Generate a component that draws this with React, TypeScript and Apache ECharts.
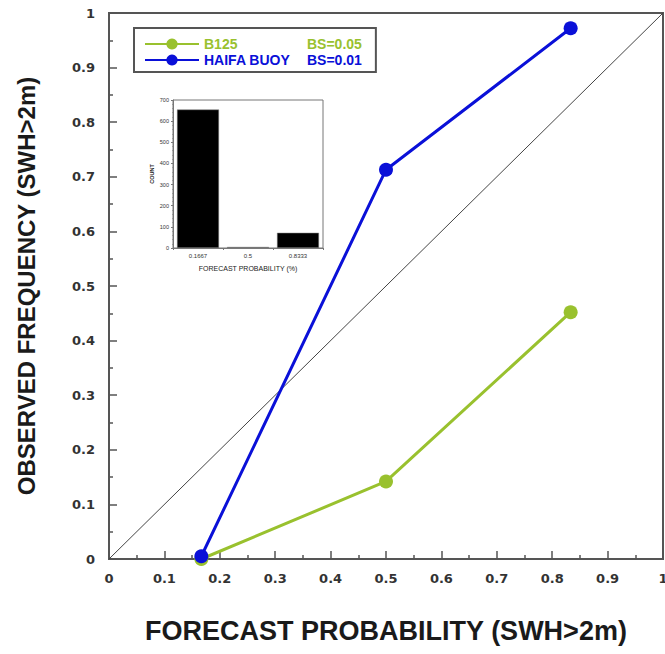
import React, { useEffect, useRef } from "react";
import * as echarts from "echarts";

const forecastProb = [0.1667, 0.5, 0.8333];
const b125Freq = [0.0, 0.142, 0.452];
const haifaFreq = [0.005, 0.713, 0.972];
const diagonal = [[0, 0], [1, 1]];
const insetCategories = ["0.1667", "0.5", "0.8333"];
const insetCounts = [655, 5, 72];
const seriesNames = ["B125", "HAIFA BUOY"];
const brierScores = ["BS=0.05", "BS=0.01"];

const GREEN = "#99c12e";
const BLUE = "#0a10d8";

export default function App() {
  const ref = useRef<HTMLDivElement>(null);
  useEffect(() => {
    document.body.style.margin = "0";
    const chart = echarts.init(ref.current!, null, { renderer: "svg" });
    const font = "Liberation Sans, Arial, sans-serif";
    const tickFont = "DejaVu Sans, Verdana, sans-serif";
    chart.setOption({
      animation: false,
      backgroundColor: "#fff",
      textStyle: { fontFamily: font },
      grid: [
        { left: 109, top: 13, width: 554, height: 546, show: true, borderColor: "#555", borderWidth: 2, backgroundColor: "transparent", outerBoundsMode: "none", containLabel: false },
        { left: 173, top: 100, width: 150, height: 148, show: true, borderColor: "#777", borderWidth: 1, backgroundColor: "#fff", z: 10, outerBoundsMode: "none", containLabel: false },
      ],
      legend: {
        left: 134,
        top: 28,
        orient: "vertical",
        data: seriesNames,
        backgroundColor: "#fff",
        borderColor: "#555",
        borderWidth: 2,
        borderRadius: 0,
        padding: [9, 14, 5, 10],
        itemGap: 2,
        itemWidth: 54,
        itemHeight: 14,
        formatter: (name: string) => {
          const i = seriesNames.indexOf(name);
          const k = i === 0 ? "g" : "b";
          return `{${k}a|${name}}{${k}b|${brierScores[i]}}`;
        },
        textStyle: {
          fontFamily: font,
          fontSize: 14,
          rich: {
            ga: { color: GREEN, width: 103, fontSize: 14, fontWeight: "bold", fontFamily: font },
            gb: { color: GREEN, fontSize: 14, fontWeight: "bold", fontFamily: font },
            ba: { color: BLUE, width: 103, fontSize: 14, fontWeight: "bold", fontFamily: font },
            bb: { color: BLUE, fontSize: 14, fontWeight: "bold", fontFamily: font },
          },
        },
      },
      xAxis: [
        {
          type: "value",
          gridIndex: 0,
          min: 0,
          max: 1,
          interval: 0.1,
          name: "FORECAST PROBABILITY (SWH>2m)",
          nameLocation: "middle",
          nameGap: 58,
          nameTextStyle: { fontSize: 27, fontWeight: "bold", color: "#1a1a1a", fontFamily: font },
          axisLine: { lineStyle: { color: "#555", width: 2 } },
          axisTick: { inside: true, length: 8, lineStyle: { color: "#555", width: 1.5 } },
          minorTick: { show: true, splitNumber: 2, length: 4, lineStyle: { color: "#555", width: 1.5 } },
          splitLine: { show: false },
          axisLabel: { fontSize: 13, fontWeight: "bold", color: "#333", margin: 13, fontFamily: tickFont },
        },
        {
          type: "category",
          gridIndex: 1,
          data: insetCategories,
          name: "FORECAST PROBABILITY (%)",
          nameLocation: "middle",
          nameGap: 17,
          nameTextStyle: { fontSize: 7, color: "#222", fontFamily: font },
          axisLine: { lineStyle: { color: "#777", width: 1 } },
          axisTick: { show: true, length: 2, lineStyle: { color: "#777" } },
          axisLabel: { fontSize: 6, color: "#333", margin: 5, fontFamily: font },
          z: 11,
        },
      ],
      yAxis: [
        {
          type: "value",
          gridIndex: 0,
          min: 0,
          max: 1,
          interval: 0.1,
          name: "OBSERVED FREQUENCY (SWH>2m)",
          nameLocation: "middle",
          nameGap: 71,
          nameTextStyle: { fontSize: 24, fontWeight: "bold", color: "#1a1a1a", fontFamily: font },
          axisLine: { lineStyle: { color: "#555", width: 2 } },
          axisTick: { inside: true, length: 8, lineStyle: { color: "#555", width: 1.5 } },
          minorTick: { show: true, splitNumber: 2, length: 4, lineStyle: { color: "#555", width: 1.5 } },
          splitLine: { show: false },
          axisLabel: { fontSize: 13, fontWeight: "bold", color: "#333", margin: 14, fontFamily: tickFont },
        },
        {
          type: "value",
          gridIndex: 1,
          min: 0,
          max: 700,
          interval: 100,
          name: "COUNT",
          nameLocation: "middle",
          nameGap: 18,
          nameTextStyle: { fontSize: 5.5, fontWeight: "bold", color: "#222", fontFamily: font },
          axisLine: { show: true, lineStyle: { color: "#777", width: 1 } },
          axisTick: { show: true, length: 2, lineStyle: { color: "#777" } },
          minorTick: { show: true, splitNumber: 5, length: 1, lineStyle: { color: "#999" } },
          splitLine: { show: false },
          axisLabel: { fontSize: 5.5, color: "#333", margin: 4, fontFamily: font },
          z: 11,
        },
      ],
      series: [
        {
          type: "line",
          name: "diagonal",
          xAxisIndex: 0,
          yAxisIndex: 0,
          data: diagonal,
          symbol: "none",
          lineStyle: { color: "#444", width: 1 },
          silent: true,
          z: 1,
        },
        {
          type: "line",
          name: seriesNames[0],
          xAxisIndex: 0,
          yAxisIndex: 0,
          data: forecastProb.map((x, i) => [x, b125Freq[i]]),
          color: GREEN,
          symbol: "circle",
          symbolSize: 14,
          lineStyle: { color: GREEN, width: 3 },
          itemStyle: { color: GREEN },
          z: 3,
        },
        {
          type: "line",
          name: seriesNames[1],
          xAxisIndex: 0,
          yAxisIndex: 0,
          data: forecastProb.map((x, i) => [x, haifaFreq[i]]),
          color: BLUE,
          symbol: "circle",
          symbolSize: 14,
          lineStyle: { color: BLUE, width: 3 },
          itemStyle: { color: BLUE },
          z: 4,
        },
        {
          type: "bar",
          name: "count",
          xAxisIndex: 1,
          yAxisIndex: 1,
          data: insetCounts,
          barCategoryGap: "16%",
          itemStyle: { color: "#000", borderColor: "#888", borderWidth: 0.5 },
          z: 12,
        },
      ],
    });
    return () => chart.dispose();
  }, []);
  return <div ref={ref} style={{ width: 665, height: 654 }} />;
}
